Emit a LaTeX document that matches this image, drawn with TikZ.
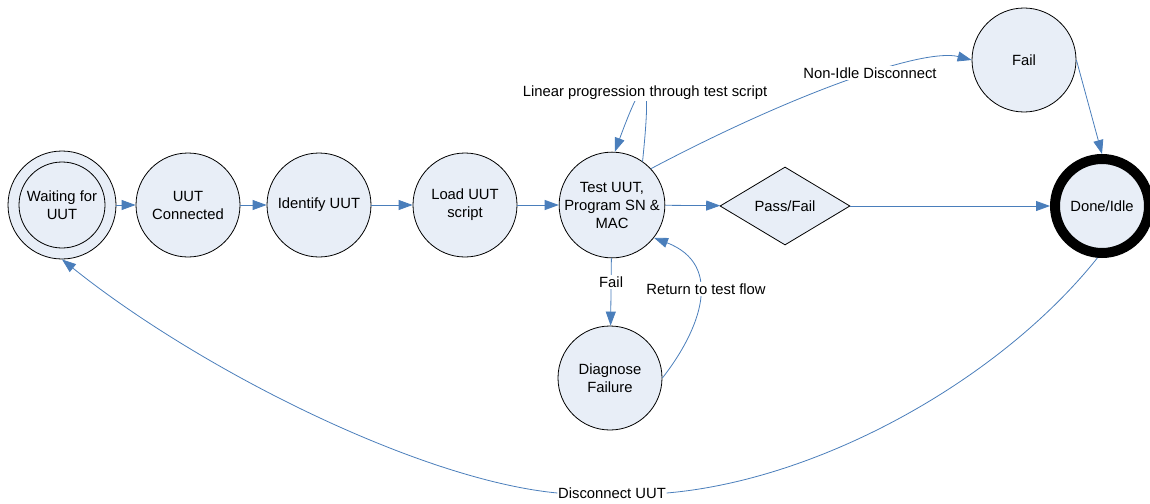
\documentclass[tikz,border=0pt]{standalone}
\usepackage{fontspec}
\setmainfont{Liberation Sans}
\usetikzlibrary{arrows.meta,shapes.geometric}
\definecolor{edgeblue}{HTML}{4A7EBB}
\definecolor{nodefill}{HTML}{E8EEF7}
\begin{document}
\begin{tikzpicture}[x=1pt,y=-1pt,font=\fontsize{14.8}{18}\selectfont,
  state/.style={circle,draw=black,line width=0.8pt,fill=nodefill,minimum size=104pt,inner sep=0pt,align=center},
  conn/.style={draw=edgeblue,line width=0.8pt},
  arr/.style={conn,-{Triangle[length=14pt,width=10pt]}},
  lbl/.style={fill=white,inner sep=1.5pt}]
\useasboundingbox (0,0) rectangle (1150,503);
% nodes
\node[state,minimum size=108pt] (wait) at (62,205) {};
\node[circle,draw=black,line width=0.8pt,minimum size=86pt,inner sep=0pt,align=center] (waitin) at (wait.center) {Waiting for\\UUT};
\node[state] (conn) at (188,205) {UUT\\Connected};
\node[state] (ident) at (319,205) {Identify UUT};
\node[state] (load) at (465,205) {Load UUT\\script};
\node[state] (test) at (612,205) {Test UUT,\\Program SN \&\\MAC};
\node[diamond,draw=black,line width=0.8pt,fill=nodefill,minimum width=130pt,minimum height=78pt,aspect=1.67,inner sep=0pt] (pass) at (785,206) {Pass/Fail};
\node[state,line width=10pt,minimum size=94pt] (done) at (1102,206) {Done/Idle};
\node[state] (fail) at (1024,60) {Fail};
\node[state] (diag) at (610,378) {Diagnose\\Failure};
\node[lbl,inner sep=0.5pt] (dis) at (612,493) {Disconnect UUT};
% straight edges
\draw[arr] (wait) -- (conn);
\draw[arr] (conn) -- (ident);
\draw[arr] (ident) -- (load);
\draw[arr] (load) -- (test);
\draw[arr] (test) -- (pass);
\draw[arr] (pass) -- (done);
\draw[arr] (fail.east) -- (done.north);
\draw[arr] (test) -- (diag) node[lbl,pos=0.35] (lfail) {Fail};
% curved edges
\draw[arr] (test.55) .. controls (652,70) and (645,70) .. (test.87);
\node[lbl] (lin) at (645,93) {Linear progression through test script};
\draw[arr] (test.43) .. controls (800,90) and (925,48) .. (fail.west);
\node[lbl] (nonidle) at (870,73) {Non-Idle Disconnect};
\draw[arr] (diag.east) .. controls (700,330) and (725,265) .. (test.-38);
\node[lbl] (ret) at (706,289) {Return to test flow};
\draw[conn] (done.-95) .. controls (1000,380) and (820,480) .. (dis.east);
\draw[arr] (dis.west) .. controls (420,480) and (200,370) .. (wait.south);
\end{tikzpicture}
\end{document}
